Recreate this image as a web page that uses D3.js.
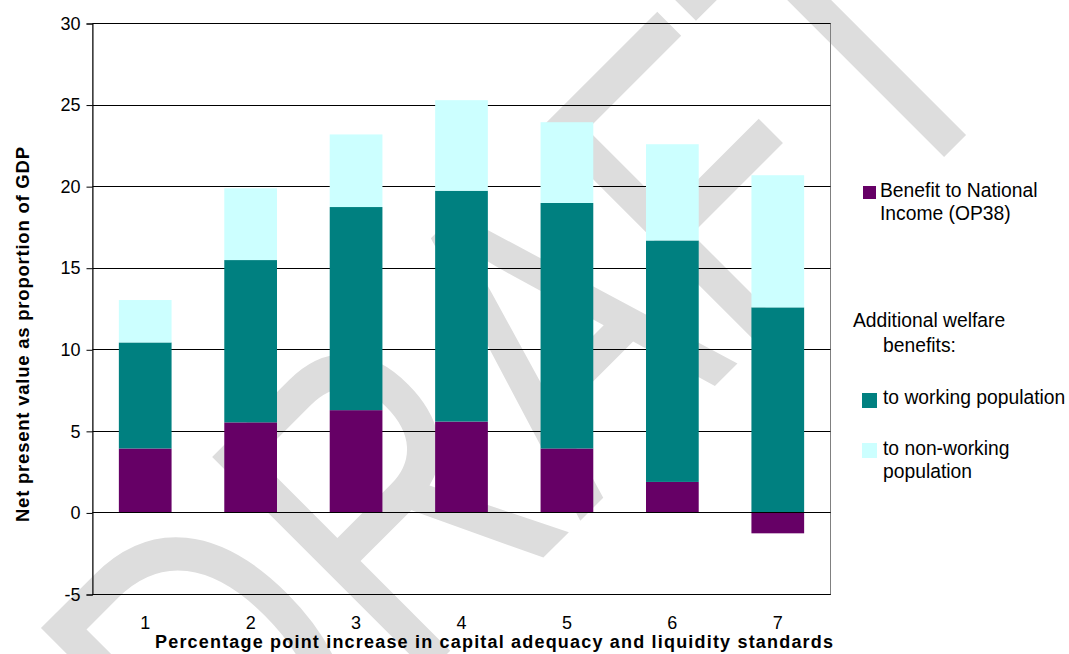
<!DOCTYPE html>
<html>
<head>
<meta charset="utf-8">
<script src="https://cdn.jsdelivr.net/npm/d3@7"></script>
<style>
  body { margin: 0; background: #fff; }
  svg { display: block; }
  text { font-family: "Liberation Sans", Arial, sans-serif; fill: #000; }
</style>
</head>
<body>
<svg id="chart" width="1069" height="654"></svg>
<script>
// Net present value of higher capital/liquidity standards, % of GDP
const categories = ["1", "2", "3", "4", "5", "6", "7"];
const nationalIncome = [3.95, 5.55, 6.3, 5.6, 3.95, 1.9, -1.25];
const workingPop = [6.5, 9.95, 12.45, 14.15, 15.05, 14.8, 12.6];
const nonWorkingPop = [2.6, 4.4, 4.45, 5.55, 4.95, 5.9, 8.1];
const yTicks = [-5, 0, 5, 10, 15, 20, 25, 30];

const seriesKeys = ["income", "working", "nonworking"];
const seriesColors = ["#660066", "#008080", "#ccffff"];

const plot = { left: 92.5, right: 830.5, top: 23.5, bottom: 594.5 };

const svg = d3.select("#chart");

// Diagonal DRAFT watermark sits behind everything
svg.append("text")
  .attr("transform", "translate(237.5,863.5) rotate(-45) scale(0.755,1)")
  .attr("font-size", 444)
  .style("fill", "#dddddd")
  .text("DRAFT");

const x = d3.scaleBand()
  .domain(categories)
  .range([plot.left, plot.right])
  .paddingInner(0.5)
  .paddingOuter(0.25);

const y = d3.scaleLinear()
  .domain([-5, 30])
  .range([plot.bottom, plot.top]);

const snap = v => Math.round(v - 0.5) + 0.5;

// Plot area border
svg.append("rect")
  .attr("x", plot.left).attr("y", plot.top)
  .attr("width", plot.right - plot.left).attr("height", plot.bottom - plot.top)
  .attr("fill", "none").attr("stroke", "#808080").attr("stroke-width", 1);

// Horizontal gridlines
svg.append("g").selectAll("line")
  .data(yTicks)
  .join("line")
  .attr("x1", plot.left).attr("x2", plot.right)
  .attr("y1", d => snap(y(d))).attr("y2", d => snap(y(d)))
  .attr("stroke", "#000").attr("stroke-width", 1);

// Stacked bars (benefit to national income can go negative)
const rows = categories.map((c, i) => ({
  cat: c,
  income: nationalIncome[i],
  working: workingPop[i],
  nonworking: nonWorkingPop[i]
}));
const stacked = d3.stack()
  .keys(seriesKeys)
  .offset(d3.stackOffsetDiverging)(rows);

svg.append("g").selectAll("g")
  .data(stacked)
  .join("g")
  .attr("fill", (d, i) => seriesColors[i])
  .selectAll("rect")
  .data(d => d)
  .join("rect")
  .attr("x", d => x(d.data.cat))
  .attr("width", x.bandwidth())
  .attr("y", d => y(Math.max(d[0], d[1])))
  .attr("height", d => Math.abs(y(d[0]) - y(d[1])));

// Zero line redrawn above the bars
svg.append("line")
  .attr("x1", plot.left).attr("x2", plot.right)
  .attr("y1", snap(y(0))).attr("y2", snap(y(0)))
  .attr("stroke", "#000").attr("stroke-width", 1);

// Y axis
const yAxis = svg.append("g")
  .attr("transform", `translate(${plot.left},0)`)
  .call(d3.axisLeft(y).tickValues(yTicks).tickSize(6).tickPadding(6).tickFormat(d => String(d)));
yAxis.select(".domain").attr("stroke", "#000");
yAxis.selectAll(".tick line").attr("stroke", "#000");
yAxis.selectAll(".tick text")
  .attr("font-size", 18)
  .style("font-family", '"Liberation Sans", Arial, sans-serif');

// Bottom axis line
svg.append("line")
  .attr("x1", plot.left).attr("x2", plot.right)
  .attr("y1", plot.bottom).attr("y2", plot.bottom)
  .attr("stroke", "#000");

// X axis labels
const xAxis = svg.append("g")
  .attr("transform", `translate(0,${plot.bottom})`)
  .call(d3.axisBottom(x).tickSize(0).tickPadding(22));
xAxis.select(".domain").remove();
xAxis.selectAll(".tick text")
  .attr("font-size", 18)
  .style("font-family", '"Liberation Sans", Arial, sans-serif');

// Axis titles
svg.append("text")
  .attr("x", 155).attr("y", 648)
  .attr("font-size", 18).attr("font-weight", "bold")
  .attr("textLength", 678).attr("lengthAdjust", "spacing")
  .text("Percentage point increase in capital adequacy and liquidity standards");

svg.append("text")
  .attr("transform", "translate(28.5,522) rotate(-90)")
  .attr("font-size", 18.5).attr("font-weight", "bold")
  .attr("textLength", 375).attr("lengthAdjust", "spacing")
  .text("Net present value as proportion of GDP");

// Legend
const legendSwatches = [
  { color: seriesColors[0], x: 863, y: 186, size: 13 },
  { color: seriesColors[1], x: 862, y: 393, size: 15 },
  { color: seriesColors[2], x: 862, y: 443, size: 15 }
];
const legendLines = [
  { text: "Benefit to National", x: 880, y: 197 },
  { text: "Income (OP38)", x: 880, y: 220 },
  { text: "Additional welfare", x: 853, y: 327 },
  { text: "benefits:", x: 883, y: 352 },
  { text: "to working population", x: 883, y: 404 },
  { text: "to non-working", x: 883, y: 455 },
  { text: "population", x: 883, y: 478 }
];
const legend = svg.append("g");
legend.selectAll("rect")
  .data(legendSwatches)
  .join("rect")
  .attr("x", d => d.x).attr("y", d => d.y)
  .attr("width", d => d.size).attr("height", d => d.size)
  .attr("fill", d => d.color);
legend.selectAll("text")
  .data(legendLines)
  .join("text")
  .attr("x", d => d.x).attr("y", d => d.y)
  .attr("font-size", 19.3)
  .text(d => d.text);
</script>
</body>
</html>
